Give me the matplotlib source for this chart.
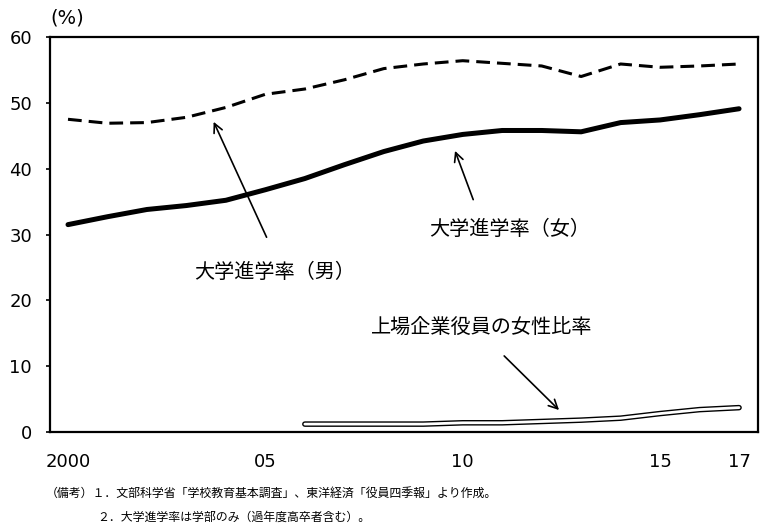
import matplotlib
matplotlib.use("Agg")
import matplotlib.pyplot as plt

plt.rcParams['font.family'] = ['Noto Sans CJK JP', 'DejaVu Sans']

years = list(range(2000, 2018))
female = [31.5, 32.7, 33.8, 34.4, 35.2, 36.8, 38.5, 40.6, 42.6, 44.2,
          45.2, 45.8, 45.8, 45.6, 47.0, 47.4, 48.2, 49.1]
male = [47.5, 46.9, 47.0, 47.8, 49.3, 51.3, 52.1, 53.5, 55.2, 55.9,
        56.4, 56.0, 55.6, 54.0, 55.9, 55.4, 55.6, 55.9]
board_years = list(range(2006, 2018))
board = [1.2, 1.2, 1.2, 1.2, 1.4, 1.4, 1.6, 1.8, 2.1, 2.8, 3.4, 3.7]

xticks = [2000, 2005, 2010, 2015, 2017]
xticklabels = ["2000", "05", "10", "15", "17"]
yticks = [0, 10, 20, 30, 40, 50, 60]

label_male = "大学進学率（男）"
label_female = "大学進学率（女）"
label_board = "上場企業役員の女性比率"
note1 = "（備考）１．文部科学省「学校教育基本調査」、東洋経済「役員四季報」より作成。"
note2 = "２．大学進学率は学部のみ（過年度高卒者含む）。"

fig = plt.figure(figsize=(7.76, 5.32), dpi=100)
ax = fig.add_axes([50/776, 1-432/532, (758-50)/776, (432-37)/532])

ax.plot(years, male, color='black', lw=2.2, linestyle=(0, (4.5, 2.3)))
ax.plot(years, female, color='black', lw=3.6, solid_capstyle='round')
ax.plot(board_years, board, color='black', lw=4.0, solid_capstyle='round')
ax.plot(board_years, board, color='white', lw=2.0, solid_capstyle='round')

ax.set_xlim(1999.544, 2017.48)
ax.set_ylim(0, 60)
ax.set_xticks(xticks)
ax.set_xticklabels(xticklabels, fontsize=13, family='DejaVu Sans')
ax.set_yticks(yticks)
ax.set_yticklabels([str(v) for v in yticks], fontsize=13, family='DejaVu Sans')
ax.tick_params(axis='x', length=0, pad=15)
ax.tick_params(axis='y', direction='out', length=3, width=1.2, pad=10)
for s in ax.spines.values():
    s.set_linewidth(1.6)

arrow = dict(arrowstyle='->', color='black', lw=1.2, mutation_scale=16)
ax.annotate("", xy=(2003.66, 47.5), xytext=(2005.06, 29.2), arrowprops=arrow)
ax.annotate("", xy=(2009.78, 43.1), xytext=(2010.29, 34.9), arrowprops=arrow)
ax.annotate("", xy=(2012.49, 3.04), xytext=(2011.0, 11.85), arrowprops=arrow)

ax.text(2005.23, 24.3, label_male, fontsize=14.5, ha='center', va='center')
ax.text(2011.2, 30.7, label_female, fontsize=14.5, ha='center', va='center')
ax.text(2010.48, 15.95, label_board, fontsize=14.5, ha='center', va='center')

fig.text(50/776, 1-18/532, "(%)", fontsize=14, ha='left', va='center', family='DejaVu Sans')
fig.text(46/776, 1-493/532, note1, fontsize=8.6, ha='left', va='center')
fig.text(97/776, 1-517/532, note2, fontsize=8.6, ha='left', va='center')

fig.savefig("out.png", dpi=100)
